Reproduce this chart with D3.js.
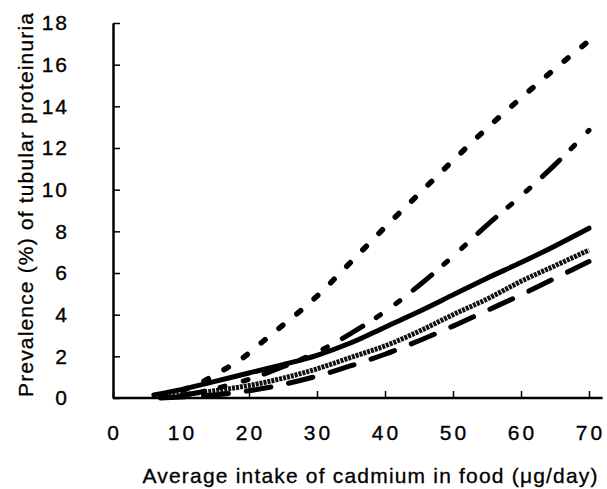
<!DOCTYPE html>
<html><head><meta charset="utf-8">
<script src="https://cdn.jsdelivr.net/npm/d3@7"></script>
<style>
body{margin:0;background:#fff;}
svg{display:block;font-family:"Liberation Sans",Arial,Helvetica,sans-serif;}
</style></head>
<body>
<svg id="c" width="607" height="489"></svg>
<script>
const xTicks = [0,10,20,30,40,50,60,70];
const yTicks = [0,2,4,6,8,10,12,14,16,18];
const xLabel = "Average intake of cadmium in food (\u03bcg/day)";
const yLabel = "Prevalence (%) of tubular proteinuria";

const shortDashX = [7,10,13,16,19,22,25,28,31,34,37,40,45,50,55,60,65,70];
const shortDashY = [0.1,0.35,0.75,1.3,1.9,2.7,3.5,4.3,5.2,6.2,7.2,8.2,9.8,11.4,12.95,14.4,15.8,17.15];

const dashDotX = [10,15,20,25,30,35,40,45,50,55,60,65,70];
const dashDotY = [0.1,0.45,0.9,1.5,2.2,3.1,4.15,5.4,6.8,8.3,9.7,11.2,12.85];

const solidX = [6,10,15,20,25,30,35,40,45,50,55,60,65,70];
const solidY = [0.15,0.4,0.8,1.2,1.6,2.05,2.65,3.4,4.15,4.95,5.75,6.5,7.3,8.15];

const grayX = [7,10,15,20,25,30,35,40,45,50,55,60,65,70];
const grayY = [0.05,0.15,0.35,0.6,0.95,1.4,1.95,2.5,3.2,4.0,4.75,5.6,6.35,7.1];

const longDashX = [7,10,15,20,25,30,35,40,45,50,55,60,65,70];
const longDashY = [0.0,0.05,0.15,0.35,0.65,1.05,1.55,2.1,2.75,3.45,4.2,4.95,5.75,6.55];

const svg = d3.select("#c");
const x = d3.scaleLinear().domain([0,70]).range([113,589]);
const y = d3.scaleLinear().domain([0,18]).range([398,23]);
const FONT = "Liberation Sans, Arial, sans-serif";

// Y axis
const ya = svg.append("g").attr("transform","translate(113,0)")
  .call(d3.axisLeft(y).tickValues(yTicks).tickSizeInner(-7).tickSizeOuter(0).tickPadding(44));
ya.select(".domain").attr("stroke","#000").attr("stroke-width",2.5);
ya.selectAll(".tick line").attr("stroke","#000").attr("stroke-width",1.5);
ya.selectAll(".tick text").attr("font-size",21).attr("font-family",FONT).attr("fill","#000")
  .attr("stroke","#000").attr("stroke-width",0.35).style("letter-spacing","2px");

// X axis
const xa = svg.append("g").attr("transform","translate(0,398)")
  .call(d3.axisBottom(x).tickValues(xTicks).tickSizeInner(-7).tickSizeOuter(0).tickPadding(27));
xa.select(".domain").remove();
xa.selectAll(".tick line").attr("stroke","#000").attr("stroke-width",1.5);
xa.selectAll(".tick text").attr("font-size",21).attr("font-family",FONT)
  .attr("fill","#000").attr("stroke","#000").attr("stroke-width",0.35)
  .style("letter-spacing","3px").attr("dx","1");
xa.append("line").attr("x1",x(0)).attr("x2",x(72)).attr("y1",0).attr("y2",0)
  .attr("stroke","#000").attr("stroke-width",2.5);

// Axis labels
svg.append("text").attr("x",370).attr("y",483).attr("text-anchor","middle")
  .attr("font-size",21).attr("stroke","#000").attr("stroke-width",0.3)
  .attr("textLength",455).attr("lengthAdjust","spacing").text(xLabel);
svg.append("text").attr("transform","translate(33,205) rotate(-90)").attr("text-anchor","middle")
  .attr("font-size",21).attr("stroke","#000").attr("stroke-width",0.3)
  .attr("textLength",384).attr("lengthAdjust","spacing").text(yLabel);

const line = d3.line().x(d=>x(d[0])).y(d=>y(d[1])).curve(d3.curveMonotoneX);
const series = [
  {xs:solidX, ys:solidY, dash:null, w:5, col:"#000", cap:"round"},
  {xs:grayX, ys:grayY, dash:"3,1", w:5, col:"#111", cap:"butt"},
  {xs:longDashX, ys:longDashY, dash:"25,18", w:5, col:"#000", cap:"round"},
  {xs:dashDotX, ys:dashDotY, dash:"24,16,5,19,5,17", w:5, col:"#000", cap:"round"},
  {xs:shortDashX, ys:shortDashY, dash:"5,18", w:5.5, col:"#000", cap:"round"}
];
series.forEach(s=>{
  const pts = s.xs.map((v,i)=>[v,s.ys[i]]);
  svg.append("path").datum(pts).attr("d",line).attr("fill","none")
    .attr("stroke",s.col).attr("stroke-width",s.w).attr("stroke-linecap",s.cap)
    .attr("stroke-dasharray",s.dash);
});
</script>
</body></html>
